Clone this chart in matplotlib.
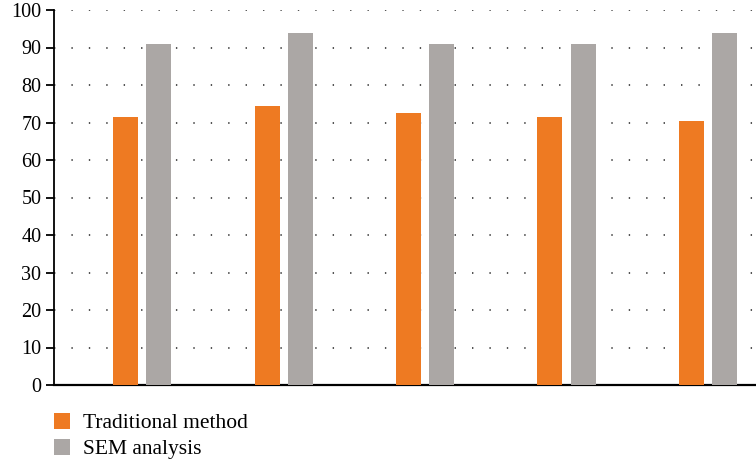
import matplotlib as mpl
mpl.use('Agg')
import matplotlib.pyplot as plt
import numpy as np

traditional = [71.5, 74.5, 72.5, 71.5, 70.5]
sem = [91, 94, 91, 91, 94]
series_names = ['Traditional method', 'SEM analysis']
yticks = list(range(0, 101, 10))

orange = '#EE7A22'
gray = '#ABA7A5'

plt.rcParams['font.family'] = ['Liberation Serif', 'DejaVu Serif']

fig = plt.figure(figsize=(7.56, 4.63), dpi=100)
ax = fig.add_axes([54 / 756, 1 - 385 / 463, 1 - 54 / 756, 375 / 463])

x = np.arange(len(traditional))
w = 0.177
off = 0.117
b1 = ax.bar(x - off, traditional, w, color=orange, zorder=3)
b2 = ax.bar(x + off, sem, w, color=gray, zorder=3)

ax.set_xlim(-0.624, 4.34)
ax.set_ylim(0, 100)
ax.set_yticks(yticks)
ax.set_xticks([])
for y in yticks[1:]:
    ax.axhline(y, color='#222222', lw=1.1, linestyle=(0, (0.9, 10.5)), zorder=1)

for s in ['top', 'right']:
    ax.spines[s].set_visible(False)
ax.spines['left'].set_linewidth(1.3)
ax.spines['bottom'].set_linewidth(1.6)
ax.tick_params(axis='y', length=6, width=1.3, labelsize=14.5, pad=3)

fig.legend([b1, b2], series_names, loc='upper left', bbox_to_anchor=(0.0714, 0.108),
           frameon=False, handlelength=0.74, handleheight=0.74, handletextpad=0.6,
           labelspacing=0.27, fontsize=15.5, borderaxespad=0, borderpad=0)

fig.savefig('out.png', dpi=100)
